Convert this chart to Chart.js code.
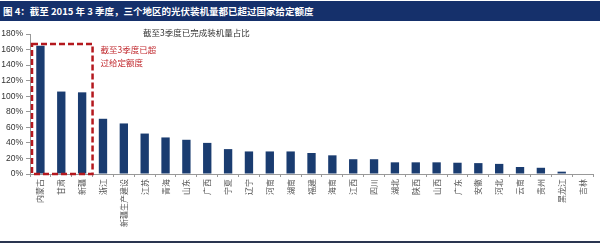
<!DOCTYPE html>
<html>
<head>
<meta charset="utf-8">
<script src="https://cdn.jsdelivr.net/npm/chart.js@4.4.0/dist/chart.umd.min.js"></script>
<style>
  body { margin: 0; width: 600px; height: 244px; background: #fff; overflow: hidden; position: relative; }
  #banner { position: absolute; left: 0; top: 1px; width: 600px; height: 20px; background: #15306b;
            color: #fff; font: bold 9.5px "Noto Sans CJK SC", sans-serif; line-height: 20px; padding-left: 3px; box-sizing: border-box; }
  #wrap { position: absolute; left: 0; top: 0; width: 600px; height: 244px; }
  #bottomLine { position: absolute; left: 0; top: 241px; width: 600px; height: 2px; background: #2a3550; }
</style>
</head>
<body>
<div id="wrap"><canvas id="provChart" width="600" height="244"></canvas></div>
<div id="banner">图 4：截至 2015 年 3 季度，三个地区的光伏装机量都已超过国家给定额度</div>
<div id="bottomLine"></div>
<script>
    // provinces and installed share (% of quota) at end of Q3 2015
    var provinces = ['内蒙古', '甘肃', '新疆', '浙江', '新疆生产建设', '江苏', '青海', '山东', '广西', '宁夏',
        '辽宁', '河南', '湖南', '福建', '海南', '江西', '四川', '湖北', '陕西', '山西',
        '广东', '安徽', '河北', '云南', '贵州', '黑龙江', '吉林'];
    var shares = [165, 106, 105, 71, 65, 52, 47, 44, 40, 32,
        29, 29, 29, 27, 24, 19, 19, 15, 15, 15,
        14.5, 14, 13, 9, 8, 3, 0];
    var yTicks = [0, 20, 40, 60, 80, 100, 120, 140, 160, 180];
    var chartTitle = '截至3季度已完成装机量占比';
    var noteLines = ['截至3季度已超', '过给定额度'];
    var overQuota = 3; // first three provinces are boxed

    // draws the chart title, the red dashed box and its note
    var notes = {
        id: 'notes',
        afterDraw: function (chart) {
            var c = chart.ctx, x = chart.scales.x, y = chart.scales.y, area = chart.chartArea;
            var step = (x.getPixelForValue(1) - x.getPixelForValue(0));
            c.save();
            c.fillStyle = '#333';
            c.font = '8.5px "Noto Sans CJK SC"';
            c.textBaseline = 'middle';
            c.fillText(chartTitle, area.left + 113, area.top - 1);

            var left = x.getPixelForValue(0) - step / 2 + 2;
            var right = x.getPixelForValue(overQuota - 1) + step / 2;
            var top = y.getPixelForValue(167);
            var bottom = y.getPixelForValue(0);
            c.strokeStyle = '#b4181e';
            c.lineWidth = 2.5;
            c.setLineDash([6, 3]);
            c.strokeRect(left, top, right - left, bottom - top);

            c.fillStyle = '#c0282d';
            c.font = '8.5px "Noto Sans CJK SC"';
            noteLines.forEach(function (t, i) {
                c.fillText(t, right + 8, top + 6 + i * 13);
            });
            c.restore();
        }
    };

    var ctx = document.getElementById('provChart').getContext('2d');
    var provChart = new Chart(ctx, {
        type: 'bar',
        data: {
            labels: provinces,
            datasets: [{
                data: shares,
                backgroundColor: '#1a3c70',
                barPercentage: 0.4,
                categoryPercentage: 1
            }]
        },
        options: {
            responsive: false,
            animation: false,
            devicePixelRatio: 1,
            layout: { padding: { top: 34, right: 7, bottom: 5, left: 0 } },
            plugins: { legend: { display: false }, tooltip: { enabled: false } },
            scales: {
                x: {
                    grid: { display: true, drawOnChartArea: false, tickLength: 3, color: '#999' },
                    border: { color: '#999' },
                    ticks: {
                        autoSkip: false, maxRotation: 90, minRotation: 90, padding: 2,
                        color: '#555', font: { family: 'Noto Sans CJK SC', size: 8 }
                    },
                    afterFit: function (s) { s.height = 65; }
                },
                y: {
                    min: 0, max: 180,
                    afterBuildTicks: function (s) { s.ticks = yTicks.map(function (v) { return { value: v }; }); },
                    grid: { display: true, drawOnChartArea: false, tickLength: 4, color: '#999' },
                    border: { color: '#999' },
                    ticks: {
                        autoSkip: false, padding: 3, color: '#333',
                        font: { family: 'Liberation Sans', size: 8.5 },
                        callback: function (v) { return v + '%'; }
                    },
                    afterFit: function (s) { s.width = 30; }
                }
            }
        },
        plugins: [notes]
    });
</script>
</body>
</html>
